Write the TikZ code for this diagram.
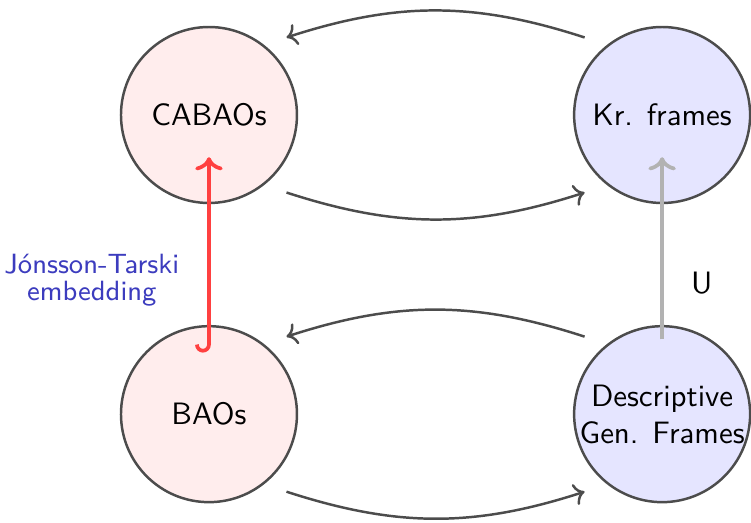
\documentclass[tikz,border=0pt]{standalone}
\usetikzlibrary{arrows,arrows.meta}

\definecolor{jtblue}{RGB}{60,60,190}

\begin{document}
\begin{tikzpicture}[
  every node/.style={font=\sffamily},
  obj/.style={circle, draw=black!70, thick, minimum size=2cm, outer sep=7pt},
  map/.style={->, thick, black!70},
]

\newcommand\HX{5.15}
\newcommand\VY{-3.4}
\newcommand\BEND{18}

\useasboundingbox (-2.375,1.307) rectangle (6.16,-4.636);

% algebras on the left, frames on the right
\node[obj, fill=red!7, label=center:CABAOs] (cabaos) at (0,0) {};
\node[obj, fill=blue!10, label=center:Kr. frames] (kr) at (\HX,0) {};
\node[obj, fill=red!7, label=center:BAOs] (baos) at (0,\VY) {};
\node[obj, fill=blue!10, label={[align=center]center:Descriptive\\Gen. Frames}] (desc) at (\HX,\VY) {};

% dualities
\draw[map] (kr.north west) to[bend right=\BEND] (cabaos.north east);
\draw[map] (cabaos.south east) to[bend right=\BEND] (kr.south west);
\draw[map] (desc.north west) to[bend right=\BEND] (baos.north east);
\draw[map] (baos.south east) to[bend right=\BEND] (desc.south west);

% embedding and forgetful map
\draw[{Hooks[right,width=9pt,length=2.6pt]}->, very thick, red!75] ([yshift=0.7cm]baos.center) --
  node[pos=0.37, left=0.2cm, align=center, text=jtblue, font=\sffamily\small]{Jónsson-Tarski\\[-2.3pt]embedding}
  ([yshift=-0.48cm]cabaos.center);
\draw[->, very thick, black!30] ([yshift=0.85cm]desc.center) --
  node[pos=0.31, right=0.19cm, text=black]{U}
  ([yshift=-0.48cm]kr.center);

\end{tikzpicture}
\end{document}
